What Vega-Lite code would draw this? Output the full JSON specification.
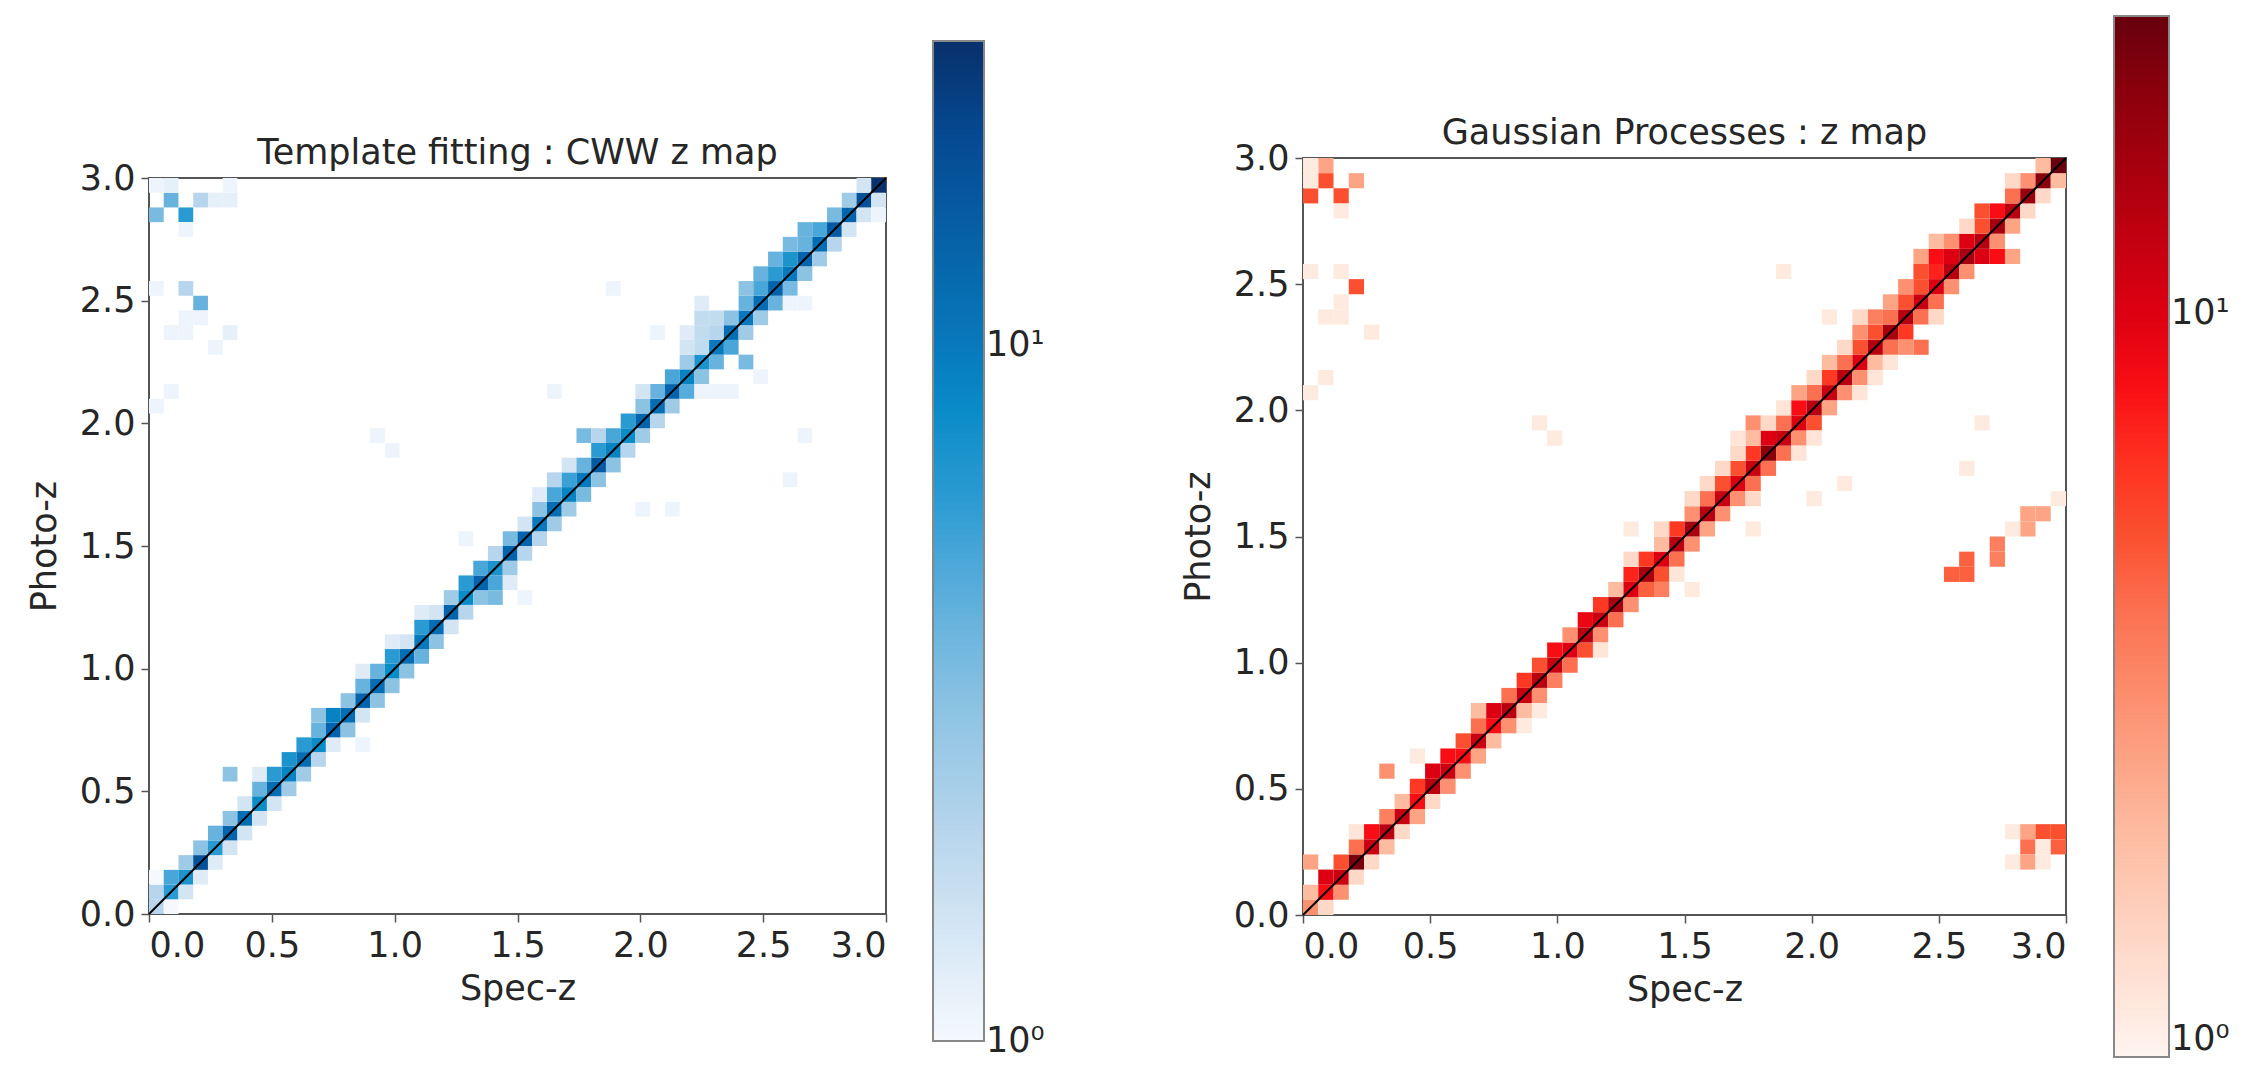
{
  "$schema": "https://vega.github.io/schema/vega-lite/v6.json",
  "padding": {"left": 26, "top": 16, "right": 0, "bottom": 0},
  "background": "white",
  "config": {
    "font": "DejaVu Sans",
    "view": {"stroke": "#555", "strokeWidth": 2},
    "axis": {"grid": false, "domain": false, "labelFontSize": 35, "titleFontSize": 35, "labelColor": "#262626", "titleColor": "#262626", "tickColor": "#555", "tickWidth": 1.5, "tickSize": 8, "labelFont": "DejaVu Sans", "titleFont": "DejaVu Sans", "titleFontWeight": "normal", "labelPadding": 6, "titlePadding": 8},
    "axisY": {"titlePadding": 17},
    "title": {"fontSize": 35, "fontWeight": "normal", "color": "#262626", "font": "DejaVu Sans", "offset": -10},
    "legend": {"gradientStrokeColor": "#888", "gradientStrokeWidth": 2, "labelFontSize": 35, "labelColor": "#262626", "labelFont": "DejaVu Sans", "padding": 0, "labelOffset": 20}
  },
  "hconcat": [
    {
      "vconcat": [
        {"width": 737, "height": 1, "view": {"stroke": null}, "data": {"values": [{"k": 0}]}, "mark": {"type": "point", "opacity": 0}, "encoding": {}},
        {
          "width": 737, "height": 736,
          "title": "Template fitting : CWW z map",
          "layer": [
            {
              "data": {"values": [
{"sx":0,"sx2":0.06,"pz":0,"pz2":0.06,"n":2},
{"sx":0,"sx2":0.06,"pz":0.06,"pz2":0.12,"n":2},
{"sx":0,"sx2":0.06,"pz":0.12,"pz2":0.18,"n":1},
{"sx":0.06,"sx2":0.12,"pz":0,"pz2":0.06,"n":1},
{"sx":0.06,"sx2":0.12,"pz":0.06,"pz2":0.12,"n":6},
{"sx":0.06,"sx2":0.12,"pz":0.12,"pz2":0.18,"n":5},
{"sx":0.12,"sx2":0.18,"pz":0.06,"pz2":0.12,"n":1.5},
{"sx":0.12,"sx2":0.18,"pz":0.12,"pz2":0.18,"n":7},
{"sx":0.12,"sx2":0.18,"pz":0.18,"pz2":0.24,"n":2.5},
{"sx":0.18,"sx2":0.24,"pz":0.12,"pz2":0.18,"n":1.3},
{"sx":0.18,"sx2":0.24,"pz":0.18,"pz2":0.24,"n":18},
{"sx":0.18,"sx2":0.24,"pz":0.24,"pz2":0.3,"n":3},
{"sx":0.24,"sx2":0.3,"pz":0.18,"pz2":0.24,"n":1.3},
{"sx":0.24,"sx2":0.3,"pz":0.24,"pz2":0.3,"n":6},
{"sx":0.24,"sx2":0.3,"pz":0.3,"pz2":0.36,"n":4},
{"sx":0.3,"sx2":0.36,"pz":0.24,"pz2":0.3,"n":1.5},
{"sx":0.3,"sx2":0.36,"pz":0.3,"pz2":0.36,"n":14},
{"sx":0.3,"sx2":0.36,"pz":0.36,"pz2":0.42,"n":3},
{"sx":0.36,"sx2":0.42,"pz":0.3,"pz2":0.36,"n":1.5},
{"sx":0.36,"sx2":0.42,"pz":0.36,"pz2":0.42,"n":12},
{"sx":0.36,"sx2":0.42,"pz":0.42,"pz2":0.48,"n":1.5},
{"sx":0.42,"sx2":0.48,"pz":0.36,"pz2":0.42,"n":1.5},
{"sx":0.42,"sx2":0.48,"pz":0.42,"pz2":0.48,"n":8},
{"sx":0.42,"sx2":0.48,"pz":0.48,"pz2":0.54,"n":4},
{"sx":0.48,"sx2":0.54,"pz":0.42,"pz2":0.48,"n":1.5},
{"sx":0.42,"sx2":0.48,"pz":0.54,"pz2":0.6,"n":1.3},
{"sx":0.48,"sx2":0.54,"pz":0.48,"pz2":0.54,"n":12},
{"sx":0.48,"sx2":0.54,"pz":0.54,"pz2":0.6,"n":6},
{"sx":0.54,"sx2":0.6,"pz":0.48,"pz2":0.54,"n":2.5},
{"sx":0.54,"sx2":0.6,"pz":0.54,"pz2":0.6,"n":9},
{"sx":0.54,"sx2":0.6,"pz":0.6,"pz2":0.66,"n":7},
{"sx":0.6,"sx2":0.66,"pz":0.54,"pz2":0.6,"n":2.5},
{"sx":0.6,"sx2":0.66,"pz":0.6,"pz2":0.66,"n":12},
{"sx":0.6,"sx2":0.66,"pz":0.66,"pz2":0.72,"n":6},
{"sx":0.66,"sx2":0.72,"pz":0.6,"pz2":0.66,"n":2},
{"sx":0.66,"sx2":0.72,"pz":0.66,"pz2":0.72,"n":8},
{"sx":0.66,"sx2":0.72,"pz":0.72,"pz2":0.78,"n":4},
{"sx":0.72,"sx2":0.78,"pz":0.66,"pz2":0.72,"n":1.3},
{"sx":0.66,"sx2":0.72,"pz":0.78,"pz2":0.84,"n":3},
{"sx":0.72,"sx2":0.78,"pz":0.72,"pz2":0.78,"n":14},
{"sx":0.72,"sx2":0.78,"pz":0.78,"pz2":0.84,"n":9},
{"sx":0.78,"sx2":0.84,"pz":0.72,"pz2":0.78,"n":3},
{"sx":0.78,"sx2":0.84,"pz":0.78,"pz2":0.84,"n":12},
{"sx":0.78,"sx2":0.84,"pz":0.84,"pz2":0.9,"n":3},
{"sx":0.84,"sx2":0.9,"pz":0.78,"pz2":0.84,"n":1.5},
{"sx":0.84,"sx2":0.9,"pz":0.84,"pz2":0.9,"n":14},
{"sx":0.84,"sx2":0.9,"pz":0.9,"pz2":0.96,"n":4},
{"sx":0.9,"sx2":0.96,"pz":0.84,"pz2":0.9,"n":3},
{"sx":0.84,"sx2":0.9,"pz":0.96,"pz2":1.02,"n":1.3},
{"sx":0.9,"sx2":0.96,"pz":0.9,"pz2":0.96,"n":12},
{"sx":0.9,"sx2":0.96,"pz":0.96,"pz2":1.02,"n":4},
{"sx":0.96,"sx2":1.02,"pz":0.9,"pz2":0.96,"n":3},
{"sx":0.96,"sx2":1.02,"pz":0.96,"pz2":1.02,"n":8},
{"sx":0.96,"sx2":1.02,"pz":1.02,"pz2":1.08,"n":6},
{"sx":1.02,"sx2":1.08,"pz":0.96,"pz2":1.02,"n":3},
{"sx":0.96,"sx2":1.02,"pz":1.08,"pz2":1.14,"n":1.3},
{"sx":1.02,"sx2":1.08,"pz":1.02,"pz2":1.08,"n":12},
{"sx":1.02,"sx2":1.08,"pz":1.08,"pz2":1.14,"n":1.5},
{"sx":1.08,"sx2":1.14,"pz":1.02,"pz2":1.08,"n":4},
{"sx":1.08,"sx2":1.14,"pz":1.08,"pz2":1.14,"n":10},
{"sx":1.08,"sx2":1.14,"pz":1.14,"pz2":1.2,"n":6},
{"sx":1.14,"sx2":1.2,"pz":1.08,"pz2":1.14,"n":3},
{"sx":1.08,"sx2":1.14,"pz":1.2,"pz2":1.26,"n":1.3},
{"sx":1.14,"sx2":1.2,"pz":1.14,"pz2":1.2,"n":12},
{"sx":1.14,"sx2":1.2,"pz":1.2,"pz2":1.26,"n":1.5},
{"sx":1.2,"sx2":1.26,"pz":1.14,"pz2":1.2,"n":1.5},
{"sx":1.2,"sx2":1.26,"pz":1.2,"pz2":1.26,"n":14},
{"sx":1.2,"sx2":1.26,"pz":1.26,"pz2":1.32,"n":2.5},
{"sx":1.26,"sx2":1.32,"pz":1.2,"pz2":1.26,"n":2},
{"sx":1.26,"sx2":1.32,"pz":1.26,"pz2":1.32,"n":8},
{"sx":1.26,"sx2":1.32,"pz":1.32,"pz2":1.38,"n":6},
{"sx":1.32,"sx2":1.38,"pz":1.26,"pz2":1.32,"n":3},
{"sx":1.32,"sx2":1.38,"pz":1.32,"pz2":1.38,"n":14},
{"sx":1.32,"sx2":1.38,"pz":1.38,"pz2":1.44,"n":5},
{"sx":1.38,"sx2":1.44,"pz":1.32,"pz2":1.38,"n":5},
{"sx":1.38,"sx2":1.44,"pz":1.26,"pz2":1.32,"n":3.5},
{"sx":1.38,"sx2":1.44,"pz":1.38,"pz2":1.44,"n":7},
{"sx":1.38,"sx2":1.44,"pz":1.44,"pz2":1.5,"n":2},
{"sx":1.44,"sx2":1.5,"pz":1.38,"pz2":1.44,"n":2.5},
{"sx":1.44,"sx2":1.5,"pz":1.32,"pz2":1.38,"n":1.3},
{"sx":1.44,"sx2":1.5,"pz":1.44,"pz2":1.5,"n":14},
{"sx":1.44,"sx2":1.5,"pz":1.5,"pz2":1.56,"n":3.5},
{"sx":1.5,"sx2":1.56,"pz":1.44,"pz2":1.5,"n":2},
{"sx":1.5,"sx2":1.56,"pz":1.5,"pz2":1.56,"n":14},
{"sx":1.5,"sx2":1.56,"pz":1.56,"pz2":1.62,"n":1.5},
{"sx":1.56,"sx2":1.62,"pz":1.5,"pz2":1.56,"n":2},
{"sx":1.56,"sx2":1.62,"pz":1.56,"pz2":1.62,"n":10},
{"sx":1.56,"sx2":1.62,"pz":1.62,"pz2":1.68,"n":3},
{"sx":1.62,"sx2":1.68,"pz":1.56,"pz2":1.62,"n":2.5},
{"sx":1.56,"sx2":1.62,"pz":1.68,"pz2":1.74,"n":1.3},
{"sx":1.62,"sx2":1.68,"pz":1.62,"pz2":1.68,"n":12},
{"sx":1.62,"sx2":1.68,"pz":1.68,"pz2":1.74,"n":5},
{"sx":1.68,"sx2":1.74,"pz":1.62,"pz2":1.68,"n":2.5},
{"sx":1.62,"sx2":1.68,"pz":1.74,"pz2":1.8,"n":2},
{"sx":1.68,"sx2":1.74,"pz":1.68,"pz2":1.74,"n":9},
{"sx":1.68,"sx2":1.74,"pz":1.74,"pz2":1.8,"n":5.5},
{"sx":1.74,"sx2":1.8,"pz":1.68,"pz2":1.74,"n":3.5},
{"sx":1.68,"sx2":1.74,"pz":1.8,"pz2":1.86,"n":1.5},
{"sx":1.74,"sx2":1.8,"pz":1.74,"pz2":1.8,"n":10},
{"sx":1.74,"sx2":1.8,"pz":1.8,"pz2":1.86,"n":4},
{"sx":1.8,"sx2":1.86,"pz":1.74,"pz2":1.8,"n":3},
{"sx":1.74,"sx2":1.8,"pz":1.92,"pz2":1.98,"n":3.5},
{"sx":1.8,"sx2":1.86,"pz":1.8,"pz2":1.86,"n":16},
{"sx":1.8,"sx2":1.86,"pz":1.86,"pz2":1.92,"n":6},
{"sx":1.86,"sx2":1.92,"pz":1.8,"pz2":1.86,"n":3},
{"sx":1.8,"sx2":1.86,"pz":1.92,"pz2":1.98,"n":2},
{"sx":1.86,"sx2":1.92,"pz":1.86,"pz2":1.92,"n":9},
{"sx":1.86,"sx2":1.92,"pz":1.92,"pz2":1.98,"n":5},
{"sx":1.92,"sx2":1.98,"pz":1.86,"pz2":1.92,"n":2},
{"sx":1.92,"sx2":1.98,"pz":1.92,"pz2":1.98,"n":8},
{"sx":1.92,"sx2":1.98,"pz":1.98,"pz2":2.04,"n":6},
{"sx":1.98,"sx2":2.04,"pz":1.92,"pz2":1.98,"n":2.5},
{"sx":1.98,"sx2":2.04,"pz":1.98,"pz2":2.04,"n":14},
{"sx":1.98,"sx2":2.04,"pz":2.04,"pz2":2.1,"n":3},
{"sx":2.04,"sx2":2.1,"pz":1.98,"pz2":2.04,"n":2},
{"sx":2.04,"sx2":2.1,"pz":2.04,"pz2":2.1,"n":12},
{"sx":2.04,"sx2":2.1,"pz":2.1,"pz2":2.16,"n":4},
{"sx":2.1,"sx2":2.16,"pz":2.04,"pz2":2.1,"n":2.5},
{"sx":1.98,"sx2":2.04,"pz":2.1,"pz2":2.16,"n":1.5},
{"sx":2.1,"sx2":2.16,"pz":2.1,"pz2":2.16,"n":14},
{"sx":2.1,"sx2":2.16,"pz":2.16,"pz2":2.22,"n":5},
{"sx":2.16,"sx2":2.22,"pz":2.1,"pz2":2.16,"n":4.5},
{"sx":2.16,"sx2":2.22,"pz":2.16,"pz2":2.22,"n":9},
{"sx":2.16,"sx2":2.22,"pz":2.22,"pz2":2.28,"n":2.5},
{"sx":2.22,"sx2":2.28,"pz":2.16,"pz2":2.22,"n":3},
{"sx":2.16,"sx2":2.22,"pz":2.28,"pz2":2.34,"n":1.5},
{"sx":2.16,"sx2":2.22,"pz":2.34,"pz2":2.4,"n":1.3},
{"sx":2.22,"sx2":2.28,"pz":2.22,"pz2":2.28,"n":7},
{"sx":2.22,"sx2":2.28,"pz":2.28,"pz2":2.34,"n":1.8},
{"sx":2.22,"sx2":2.28,"pz":2.34,"pz2":2.4,"n":1.8},
{"sx":2.22,"sx2":2.28,"pz":2.4,"pz2":2.46,"n":1.8},
{"sx":2.22,"sx2":2.28,"pz":2.46,"pz2":2.52,"n":1.3},
{"sx":2.28,"sx2":2.34,"pz":2.22,"pz2":2.28,"n":4},
{"sx":2.28,"sx2":2.34,"pz":2.28,"pz2":2.34,"n":10},
{"sx":2.28,"sx2":2.34,"pz":2.34,"pz2":2.4,"n":2},
{"sx":2.28,"sx2":2.34,"pz":2.4,"pz2":2.46,"n":1.8},
{"sx":2.34,"sx2":2.4,"pz":2.28,"pz2":2.34,"n":5},
{"sx":2.34,"sx2":2.4,"pz":2.34,"pz2":2.4,"n":12},
{"sx":2.34,"sx2":2.4,"pz":2.4,"pz2":2.46,"n":3},
{"sx":2.4,"sx2":2.46,"pz":2.34,"pz2":2.4,"n":2.5},
{"sx":2.4,"sx2":2.46,"pz":2.22,"pz2":2.28,"n":3.5},
{"sx":2.4,"sx2":2.46,"pz":2.4,"pz2":2.46,"n":10},
{"sx":2.4,"sx2":2.46,"pz":2.46,"pz2":2.52,"n":4},
{"sx":2.46,"sx2":2.52,"pz":2.4,"pz2":2.46,"n":2.5},
{"sx":2.4,"sx2":2.46,"pz":2.52,"pz2":2.58,"n":3},
{"sx":2.46,"sx2":2.52,"pz":2.46,"pz2":2.52,"n":12},
{"sx":2.46,"sx2":2.52,"pz":2.52,"pz2":2.58,"n":5},
{"sx":2.52,"sx2":2.58,"pz":2.46,"pz2":2.52,"n":4},
{"sx":2.46,"sx2":2.52,"pz":2.58,"pz2":2.64,"n":4},
{"sx":2.52,"sx2":2.58,"pz":2.52,"pz2":2.58,"n":14},
{"sx":2.52,"sx2":2.58,"pz":2.58,"pz2":2.64,"n":6},
{"sx":2.58,"sx2":2.64,"pz":2.52,"pz2":2.58,"n":3.5},
{"sx":2.52,"sx2":2.58,"pz":2.64,"pz2":2.7,"n":4},
{"sx":2.58,"sx2":2.64,"pz":2.58,"pz2":2.64,"n":10},
{"sx":2.58,"sx2":2.64,"pz":2.64,"pz2":2.7,"n":7},
{"sx":2.64,"sx2":2.7,"pz":2.58,"pz2":2.64,"n":3},
{"sx":2.58,"sx2":2.64,"pz":2.7,"pz2":2.76,"n":3.5},
{"sx":2.64,"sx2":2.7,"pz":2.64,"pz2":2.7,"n":14},
{"sx":2.64,"sx2":2.7,"pz":2.7,"pz2":2.76,"n":4},
{"sx":2.7,"sx2":2.76,"pz":2.64,"pz2":2.7,"n":2.5},
{"sx":2.64,"sx2":2.7,"pz":2.76,"pz2":2.82,"n":4},
{"sx":2.7,"sx2":2.76,"pz":2.7,"pz2":2.76,"n":12},
{"sx":2.7,"sx2":2.76,"pz":2.76,"pz2":2.82,"n":5},
{"sx":2.76,"sx2":2.82,"pz":2.7,"pz2":2.76,"n":2},
{"sx":2.76,"sx2":2.82,"pz":2.76,"pz2":2.82,"n":16},
{"sx":2.76,"sx2":2.82,"pz":2.82,"pz2":2.88,"n":3.5},
{"sx":2.82,"sx2":2.88,"pz":2.76,"pz2":2.82,"n":1.5},
{"sx":2.82,"sx2":2.88,"pz":2.82,"pz2":2.88,"n":14},
{"sx":2.82,"sx2":2.88,"pz":2.88,"pz2":2.94,"n":2.5},
{"sx":2.88,"sx2":2.94,"pz":2.82,"pz2":2.88,"n":1.5},
{"sx":2.88,"sx2":2.94,"pz":2.88,"pz2":2.94,"n":18},
{"sx":2.88,"sx2":2.94,"pz":2.94,"pz2":3,"n":1.5},
{"sx":2.94,"sx2":3,"pz":2.88,"pz2":2.94,"n":1.5},
{"sx":2.94,"sx2":3,"pz":2.94,"pz2":3,"n":27},
{"sx":0,"sx2":0.06,"pz":2.82,"pz2":2.88,"n":3.5},
{"sx":0.06,"sx2":0.12,"pz":2.88,"pz2":2.94,"n":4},
{"sx":0.12,"sx2":0.18,"pz":2.82,"pz2":2.88,"n":6},
{"sx":0.18,"sx2":0.24,"pz":2.88,"pz2":2.94,"n":2},
{"sx":0.06,"sx2":0.12,"pz":2.94,"pz2":3,"n":1.2},
{"sx":0,"sx2":0.06,"pz":2.94,"pz2":3,"n":1.1},
{"sx":0.24,"sx2":0.3,"pz":2.88,"pz2":2.94,"n":1.2},
{"sx":0.3,"sx2":0.36,"pz":2.88,"pz2":2.94,"n":1.2},
{"sx":0.3,"sx2":0.36,"pz":2.94,"pz2":3,"n":1.1},
{"sx":0.12,"sx2":0.18,"pz":2.76,"pz2":2.82,"n":1.1},
{"sx":0,"sx2":0.06,"pz":2.52,"pz2":2.58,"n":1.1},
{"sx":0.12,"sx2":0.18,"pz":2.52,"pz2":2.58,"n":2},
{"sx":0.18,"sx2":0.24,"pz":2.46,"pz2":2.52,"n":4},
{"sx":0.12,"sx2":0.18,"pz":2.4,"pz2":2.46,"n":1.1},
{"sx":0.18,"sx2":0.24,"pz":2.4,"pz2":2.46,"n":1.1},
{"sx":0.06,"sx2":0.12,"pz":2.34,"pz2":2.4,"n":1.1},
{"sx":0.12,"sx2":0.18,"pz":2.34,"pz2":2.4,"n":1.1},
{"sx":0.3,"sx2":0.36,"pz":2.34,"pz2":2.4,"n":1.2},
{"sx":0.24,"sx2":0.3,"pz":2.28,"pz2":2.34,"n":1.1},
{"sx":0.06,"sx2":0.12,"pz":2.1,"pz2":2.16,"n":1.1},
{"sx":0,"sx2":0.06,"pz":2.04,"pz2":2.1,"n":1.1},
{"sx":0.9,"sx2":0.96,"pz":1.92,"pz2":1.98,"n":1.1},
{"sx":0.96,"sx2":1.02,"pz":1.86,"pz2":1.92,"n":1.1},
{"sx":2.64,"sx2":2.7,"pz":1.92,"pz2":1.98,"n":1.1},
{"sx":2.58,"sx2":2.64,"pz":1.74,"pz2":1.8,"n":1.1},
{"sx":1.86,"sx2":1.92,"pz":2.52,"pz2":2.58,"n":1.1},
{"sx":2.04,"sx2":2.1,"pz":2.34,"pz2":2.4,"n":1.1},
{"sx":1.62,"sx2":1.68,"pz":2.1,"pz2":2.16,"n":1.1},
{"sx":1.98,"sx2":2.04,"pz":1.62,"pz2":1.68,"n":1.1},
{"sx":2.1,"sx2":2.16,"pz":1.62,"pz2":1.68,"n":1.1},
{"sx":1.5,"sx2":1.56,"pz":1.26,"pz2":1.32,"n":1.1},
{"sx":1.26,"sx2":1.32,"pz":1.5,"pz2":1.56,"n":1.1},
{"sx":0.84,"sx2":0.9,"pz":0.66,"pz2":0.72,"n":1.1},
{"sx":0.3,"sx2":0.36,"pz":0.54,"pz2":0.6,"n":3},
{"sx":2.22,"sx2":2.28,"pz":2.1,"pz2":2.16,"n":1.1},
{"sx":2.28,"sx2":2.34,"pz":2.1,"pz2":2.16,"n":1.1},
{"sx":2.34,"sx2":2.4,"pz":2.1,"pz2":2.16,"n":1.1},
{"sx":2.46,"sx2":2.52,"pz":2.16,"pz2":2.22,"n":1.1},
{"sx":2.58,"sx2":2.64,"pz":2.46,"pz2":2.52,"n":1.1},
{"sx":2.64,"sx2":2.7,"pz":2.46,"pz2":2.52,"n":1.1},
{"sx":2.94,"sx2":3,"pz":2.82,"pz2":2.88,"n":1.1}
              ]},
              "mark": {"type": "rect"},
              "encoding": {
                "x": {"field": "sx", "type": "quantitative", "scale": {"domain": [0, 3], "nice": false, "zero": false}, "axis": {"values": [0, 0.5, 1, 1.5, 2, 2.5, 3], "format": ".1f", "title": "Spec-z"}},
                "x2": {"field": "sx2"},
                "y": {"field": "pz", "type": "quantitative", "scale": {"domain": [0, 3], "nice": false, "zero": false}, "axis": {"values": [0, 0.5, 1, 1.5, 2, 2.5, 3], "format": ".1f", "title": "Photo-z"}},
                "y2": {"field": "pz2"},
                "color": {
                  "field": "n", "type": "quantitative",
                  "scale": {"type": "log", "domain": [1, 1.4, 2, 3, 4.5, 6, 8, 10, 15, 20, 27.4], "range": ["#f5f9fe", "#d9e8f5", "#b7d5ec", "#8cc3e3", "#56addb", "#2a9bd2", "#0a8cc9", "#0879bc", "#045fa8", "#054a92", "#08306b"]},
                  "legend": {"orient": "none", "legendX": 784, "legendY": -116, "title": null, "direction": "vertical", "gradientLength": 1000, "gradientThickness": 51, "values": [1, 10], "labelExpr": "datum.value < 5 ? '10⁰' : '10¹'", "encode": {"labels": {"update": {"baseline": {"value": "middle"}}}}}
                }
              }
            },
            {
              "data": {"values": [{"sx": 0, "pz": 0}, {"sx": 3, "pz": 3}]},
              "mark": {"type": "line", "color": "black", "strokeWidth": 2},
              "encoding": {
                "x": {"field": "sx", "type": "quantitative"},
                "y": {"field": "pz", "type": "quantitative"}
              }
            }
          ]
        }
      ],
      "spacing": 20,
      "bounds": "flush"
    },
    {
      "vconcat": [
        {"width": 763, "height": 1, "view": {"stroke": null}, "data": {"values": [{"k": 0}]}, "mark": {"type": "point", "opacity": 0}, "encoding": {}},
        {
          "width": 763, "height": 757,
          "title": "Gaussian Processes : z map",
          "layer": [
            {
              "data": {"values": [
{"sx":0,"sx2":0.06,"pz":0,"pz2":0.06,"n":3},
{"sx":0,"sx2":0.06,"pz":0.06,"pz2":0.12,"n":2},
{"sx":0,"sx2":0.06,"pz":0.18,"pz2":0.24,"n":2.5},
{"sx":0.06,"sx2":0.12,"pz":0,"pz2":0.06,"n":1.5},
{"sx":0.06,"sx2":0.12,"pz":0.06,"pz2":0.12,"n":8},
{"sx":0.06,"sx2":0.12,"pz":0.12,"pz2":0.18,"n":10},
{"sx":0.12,"sx2":0.18,"pz":0.06,"pz2":0.12,"n":3},
{"sx":0.12,"sx2":0.18,"pz":0.12,"pz2":0.18,"n":12},
{"sx":0.12,"sx2":0.18,"pz":0.18,"pz2":0.24,"n":5},
{"sx":0.18,"sx2":0.24,"pz":0.12,"pz2":0.18,"n":1.5},
{"sx":0.18,"sx2":0.24,"pz":0.18,"pz2":0.24,"n":22},
{"sx":0.18,"sx2":0.24,"pz":0.24,"pz2":0.3,"n":4},
{"sx":0.24,"sx2":0.3,"pz":0.18,"pz2":0.24,"n":1.5},
{"sx":0.18,"sx2":0.24,"pz":0.3,"pz2":0.36,"n":1.3},
{"sx":0.24,"sx2":0.3,"pz":0.24,"pz2":0.3,"n":12},
{"sx":0.24,"sx2":0.3,"pz":0.3,"pz2":0.36,"n":8},
{"sx":0.3,"sx2":0.36,"pz":0.24,"pz2":0.3,"n":2},
{"sx":0.3,"sx2":0.36,"pz":0.3,"pz2":0.36,"n":14},
{"sx":0.3,"sx2":0.36,"pz":0.36,"pz2":0.42,"n":3.5},
{"sx":0.36,"sx2":0.42,"pz":0.3,"pz2":0.36,"n":1.5},
{"sx":0.36,"sx2":0.42,"pz":0.36,"pz2":0.42,"n":12},
{"sx":0.36,"sx2":0.42,"pz":0.42,"pz2":0.48,"n":2},
{"sx":0.42,"sx2":0.48,"pz":0.36,"pz2":0.42,"n":2.5},
{"sx":0.42,"sx2":0.48,"pz":0.6,"pz2":0.66,"n":1.2},
{"sx":0.42,"sx2":0.48,"pz":0.42,"pz2":0.48,"n":8},
{"sx":0.42,"sx2":0.48,"pz":0.48,"pz2":0.54,"n":6},
{"sx":0.48,"sx2":0.54,"pz":0.42,"pz2":0.48,"n":1.5},
{"sx":0.48,"sx2":0.54,"pz":0.48,"pz2":0.54,"n":14},
{"sx":0.48,"sx2":0.54,"pz":0.54,"pz2":0.6,"n":10},
{"sx":0.54,"sx2":0.6,"pz":0.48,"pz2":0.54,"n":3},
{"sx":0.54,"sx2":0.6,"pz":0.54,"pz2":0.6,"n":12},
{"sx":0.54,"sx2":0.6,"pz":0.6,"pz2":0.66,"n":8},
{"sx":0.6,"sx2":0.66,"pz":0.54,"pz2":0.6,"n":3},
{"sx":0.6,"sx2":0.66,"pz":0.6,"pz2":0.66,"n":8},
{"sx":0.6,"sx2":0.66,"pz":0.66,"pz2":0.72,"n":5},
{"sx":0.66,"sx2":0.72,"pz":0.6,"pz2":0.66,"n":2.5},
{"sx":0.66,"sx2":0.72,"pz":0.66,"pz2":0.72,"n":12},
{"sx":0.66,"sx2":0.72,"pz":0.72,"pz2":0.78,"n":4},
{"sx":0.72,"sx2":0.78,"pz":0.66,"pz2":0.72,"n":2},
{"sx":0.72,"sx2":0.78,"pz":0.72,"pz2":0.78,"n":8},
{"sx":0.72,"sx2":0.78,"pz":0.78,"pz2":0.84,"n":10},
{"sx":0.78,"sx2":0.84,"pz":0.72,"pz2":0.78,"n":3},
{"sx":0.66,"sx2":0.72,"pz":0.78,"pz2":0.84,"n":2},
{"sx":0.78,"sx2":0.84,"pz":0.78,"pz2":0.84,"n":14},
{"sx":0.78,"sx2":0.84,"pz":0.84,"pz2":0.9,"n":4},
{"sx":0.84,"sx2":0.9,"pz":0.78,"pz2":0.84,"n":2},
{"sx":0.84,"sx2":0.9,"pz":0.72,"pz2":0.78,"n":1.2},
{"sx":0.84,"sx2":0.9,"pz":0.84,"pz2":0.9,"n":12},
{"sx":0.84,"sx2":0.9,"pz":0.9,"pz2":0.96,"n":6},
{"sx":0.9,"sx2":0.96,"pz":0.84,"pz2":0.9,"n":3},
{"sx":0.9,"sx2":0.96,"pz":0.78,"pz2":0.84,"n":1.2},
{"sx":0.9,"sx2":0.96,"pz":0.9,"pz2":0.96,"n":14},
{"sx":0.9,"sx2":0.96,"pz":0.96,"pz2":1.02,"n":5},
{"sx":0.96,"sx2":1.02,"pz":0.9,"pz2":0.96,"n":3.5},
{"sx":0.96,"sx2":1.02,"pz":0.96,"pz2":1.02,"n":12},
{"sx":0.96,"sx2":1.02,"pz":1.02,"pz2":1.08,"n":8},
{"sx":1.02,"sx2":1.08,"pz":0.96,"pz2":1.02,"n":4},
{"sx":1.02,"sx2":1.08,"pz":1.02,"pz2":1.08,"n":10},
{"sx":1.02,"sx2":1.08,"pz":1.08,"pz2":1.14,"n":3},
{"sx":1.08,"sx2":1.14,"pz":1.02,"pz2":1.08,"n":5},
{"sx":1.08,"sx2":1.14,"pz":1.08,"pz2":1.14,"n":14},
{"sx":1.08,"sx2":1.14,"pz":1.14,"pz2":1.2,"n":9},
{"sx":1.14,"sx2":1.2,"pz":1.08,"pz2":1.14,"n":3},
{"sx":1.14,"sx2":1.2,"pz":1.02,"pz2":1.08,"n":1.3},
{"sx":1.14,"sx2":1.2,"pz":1.14,"pz2":1.2,"n":12},
{"sx":1.14,"sx2":1.2,"pz":1.2,"pz2":1.26,"n":6},
{"sx":1.2,"sx2":1.26,"pz":1.14,"pz2":1.2,"n":4},
{"sx":1.2,"sx2":1.26,"pz":1.2,"pz2":1.26,"n":16},
{"sx":1.2,"sx2":1.26,"pz":1.26,"pz2":1.32,"n":2},
{"sx":1.26,"sx2":1.32,"pz":1.2,"pz2":1.26,"n":3},
{"sx":1.26,"sx2":1.32,"pz":1.26,"pz2":1.32,"n":10},
{"sx":1.26,"sx2":1.32,"pz":1.32,"pz2":1.38,"n":7},
{"sx":1.32,"sx2":1.38,"pz":1.26,"pz2":1.32,"n":4.5},
{"sx":1.26,"sx2":1.32,"pz":1.38,"pz2":1.44,"n":1.5},
{"sx":1.32,"sx2":1.38,"pz":1.32,"pz2":1.38,"n":16},
{"sx":1.32,"sx2":1.38,"pz":1.38,"pz2":1.44,"n":6},
{"sx":1.38,"sx2":1.44,"pz":1.32,"pz2":1.38,"n":5},
{"sx":1.38,"sx2":1.44,"pz":1.26,"pz2":1.32,"n":3.5},
{"sx":1.38,"sx2":1.44,"pz":1.38,"pz2":1.44,"n":10},
{"sx":1.38,"sx2":1.44,"pz":1.44,"pz2":1.5,"n":2},
{"sx":1.44,"sx2":1.5,"pz":1.38,"pz2":1.44,"n":4},
{"sx":1.44,"sx2":1.5,"pz":1.32,"pz2":1.38,"n":1.3},
{"sx":1.44,"sx2":1.5,"pz":1.44,"pz2":1.5,"n":14},
{"sx":1.44,"sx2":1.5,"pz":1.5,"pz2":1.56,"n":6},
{"sx":1.5,"sx2":1.56,"pz":1.44,"pz2":1.5,"n":3},
{"sx":1.38,"sx2":1.44,"pz":1.5,"pz2":1.56,"n":1.5},
{"sx":1.5,"sx2":1.56,"pz":1.5,"pz2":1.56,"n":16},
{"sx":1.5,"sx2":1.56,"pz":1.56,"pz2":1.62,"n":3},
{"sx":1.56,"sx2":1.62,"pz":1.5,"pz2":1.56,"n":2.5},
{"sx":1.56,"sx2":1.62,"pz":1.56,"pz2":1.62,"n":14},
{"sx":1.56,"sx2":1.62,"pz":1.62,"pz2":1.68,"n":4},
{"sx":1.62,"sx2":1.68,"pz":1.56,"pz2":1.62,"n":3},
{"sx":1.5,"sx2":1.56,"pz":1.62,"pz2":1.68,"n":1.5},
{"sx":1.62,"sx2":1.68,"pz":1.62,"pz2":1.68,"n":12},
{"sx":1.62,"sx2":1.68,"pz":1.68,"pz2":1.74,"n":5},
{"sx":1.68,"sx2":1.74,"pz":1.62,"pz2":1.68,"n":3},
{"sx":1.56,"sx2":1.62,"pz":1.68,"pz2":1.74,"n":1.5},
{"sx":1.68,"sx2":1.74,"pz":1.68,"pz2":1.74,"n":10},
{"sx":1.68,"sx2":1.74,"pz":1.74,"pz2":1.8,"n":5},
{"sx":1.74,"sx2":1.8,"pz":1.68,"pz2":1.74,"n":4},
{"sx":1.62,"sx2":1.68,"pz":1.74,"pz2":1.8,"n":1.5},
{"sx":1.74,"sx2":1.8,"pz":1.62,"pz2":1.68,"n":1.5},
{"sx":1.74,"sx2":1.8,"pz":1.74,"pz2":1.8,"n":12},
{"sx":1.74,"sx2":1.8,"pz":1.8,"pz2":1.86,"n":6},
{"sx":1.8,"sx2":1.86,"pz":1.74,"pz2":1.8,"n":4},
{"sx":1.68,"sx2":1.74,"pz":1.8,"pz2":1.86,"n":1.5},
{"sx":1.68,"sx2":1.74,"pz":1.86,"pz2":1.92,"n":1.3},
{"sx":1.74,"sx2":1.8,"pz":1.86,"pz2":1.92,"n":2},
{"sx":1.8,"sx2":1.86,"pz":1.8,"pz2":1.86,"n":20},
{"sx":1.8,"sx2":1.86,"pz":1.86,"pz2":1.92,"n":10},
{"sx":1.86,"sx2":1.92,"pz":1.8,"pz2":1.86,"n":4},
{"sx":1.74,"sx2":1.8,"pz":1.92,"pz2":1.98,"n":3},
{"sx":1.8,"sx2":1.86,"pz":1.92,"pz2":1.98,"n":1.5},
{"sx":1.86,"sx2":1.92,"pz":1.86,"pz2":1.92,"n":12},
{"sx":1.86,"sx2":1.92,"pz":1.92,"pz2":1.98,"n":4},
{"sx":1.92,"sx2":1.98,"pz":1.86,"pz2":1.92,"n":3},
{"sx":1.86,"sx2":1.92,"pz":1.98,"pz2":2.04,"n":1.3},
{"sx":1.92,"sx2":1.98,"pz":1.8,"pz2":1.86,"n":1.3},
{"sx":1.92,"sx2":1.98,"pz":1.92,"pz2":1.98,"n":10},
{"sx":1.92,"sx2":1.98,"pz":1.98,"pz2":2.04,"n":8},
{"sx":1.98,"sx2":2.04,"pz":1.92,"pz2":1.98,"n":5},
{"sx":1.98,"sx2":2.04,"pz":1.86,"pz2":1.92,"n":1.3},
{"sx":1.98,"sx2":2.04,"pz":1.98,"pz2":2.04,"n":14},
{"sx":1.98,"sx2":2.04,"pz":2.04,"pz2":2.1,"n":4},
{"sx":2.04,"sx2":2.1,"pz":1.98,"pz2":2.04,"n":2.5},
{"sx":1.92,"sx2":1.98,"pz":2.04,"pz2":2.1,"n":2.5},
{"sx":2.04,"sx2":2.1,"pz":2.04,"pz2":2.1,"n":12},
{"sx":2.04,"sx2":2.1,"pz":2.1,"pz2":2.16,"n":6},
{"sx":2.1,"sx2":2.16,"pz":2.04,"pz2":2.1,"n":3},
{"sx":1.98,"sx2":2.04,"pz":2.1,"pz2":2.16,"n":1.5},
{"sx":2.1,"sx2":2.16,"pz":2.1,"pz2":2.16,"n":14},
{"sx":2.1,"sx2":2.16,"pz":2.16,"pz2":2.22,"n":4},
{"sx":2.16,"sx2":2.22,"pz":2.1,"pz2":2.16,"n":3},
{"sx":2.04,"sx2":2.1,"pz":2.16,"pz2":2.22,"n":2},
{"sx":2.16,"sx2":2.22,"pz":2.16,"pz2":2.22,"n":10},
{"sx":2.16,"sx2":2.22,"pz":2.22,"pz2":2.28,"n":5},
{"sx":2.22,"sx2":2.28,"pz":2.16,"pz2":2.22,"n":2},
{"sx":2.1,"sx2":2.16,"pz":2.22,"pz2":2.28,"n":1.5},
{"sx":2.16,"sx2":2.22,"pz":2.04,"pz2":2.1,"n":1.3},
{"sx":2.22,"sx2":2.28,"pz":2.22,"pz2":2.28,"n":14},
{"sx":2.22,"sx2":2.28,"pz":2.28,"pz2":2.34,"n":5},
{"sx":2.28,"sx2":2.34,"pz":2.22,"pz2":2.28,"n":4},
{"sx":2.22,"sx2":2.28,"pz":2.34,"pz2":2.4,"n":3.5},
{"sx":2.16,"sx2":2.22,"pz":2.28,"pz2":2.34,"n":3},
{"sx":2.16,"sx2":2.22,"pz":2.34,"pz2":2.4,"n":1.5},
{"sx":2.22,"sx2":2.28,"pz":2.1,"pz2":2.16,"n":1.3},
{"sx":2.28,"sx2":2.34,"pz":2.28,"pz2":2.34,"n":16},
{"sx":2.28,"sx2":2.34,"pz":2.34,"pz2":2.4,"n":4},
{"sx":2.34,"sx2":2.4,"pz":2.28,"pz2":2.34,"n":6},
{"sx":2.28,"sx2":2.34,"pz":2.4,"pz2":2.46,"n":2.5},
{"sx":2.28,"sx2":2.34,"pz":2.16,"pz2":2.22,"n":1.3},
{"sx":2.34,"sx2":2.4,"pz":2.34,"pz2":2.4,"n":14},
{"sx":2.34,"sx2":2.4,"pz":2.4,"pz2":2.46,"n":5},
{"sx":2.4,"sx2":2.46,"pz":2.34,"pz2":2.4,"n":4},
{"sx":2.4,"sx2":2.46,"pz":2.22,"pz2":2.28,"n":4},
{"sx":2.34,"sx2":2.4,"pz":2.46,"pz2":2.52,"n":3},
{"sx":2.34,"sx2":2.4,"pz":2.22,"pz2":2.28,"n":3},
{"sx":2.4,"sx2":2.46,"pz":2.4,"pz2":2.46,"n":12},
{"sx":2.4,"sx2":2.46,"pz":2.46,"pz2":2.52,"n":5},
{"sx":2.46,"sx2":2.52,"pz":2.4,"pz2":2.46,"n":4},
{"sx":2.4,"sx2":2.46,"pz":2.52,"pz2":2.58,"n":5},
{"sx":2.4,"sx2":2.46,"pz":2.58,"pz2":2.64,"n":2.5},
{"sx":2.46,"sx2":2.52,"pz":2.34,"pz2":2.4,"n":1.5},
{"sx":2.46,"sx2":2.52,"pz":2.46,"pz2":2.52,"n":10},
{"sx":2.46,"sx2":2.52,"pz":2.52,"pz2":2.58,"n":7},
{"sx":2.52,"sx2":2.58,"pz":2.46,"pz2":2.52,"n":3},
{"sx":2.46,"sx2":2.52,"pz":2.58,"pz2":2.64,"n":8},
{"sx":2.46,"sx2":2.52,"pz":2.64,"pz2":2.7,"n":2},
{"sx":2.52,"sx2":2.58,"pz":2.52,"pz2":2.58,"n":14},
{"sx":2.52,"sx2":2.58,"pz":2.58,"pz2":2.64,"n":10},
{"sx":2.58,"sx2":2.64,"pz":2.52,"pz2":2.58,"n":3},
{"sx":2.52,"sx2":2.58,"pz":2.64,"pz2":2.7,"n":3},
{"sx":2.58,"sx2":2.64,"pz":2.58,"pz2":2.64,"n":16},
{"sx":2.58,"sx2":2.64,"pz":2.64,"pz2":2.7,"n":10},
{"sx":2.64,"sx2":2.7,"pz":2.58,"pz2":2.64,"n":10},
{"sx":2.7,"sx2":2.76,"pz":2.58,"pz2":2.64,"n":8},
{"sx":2.76,"sx2":2.82,"pz":2.58,"pz2":2.64,"n":2.5},
{"sx":2.64,"sx2":2.7,"pz":2.64,"pz2":2.7,"n":14},
{"sx":2.64,"sx2":2.7,"pz":2.7,"pz2":2.76,"n":5},
{"sx":2.7,"sx2":2.76,"pz":2.64,"pz2":2.7,"n":3},
{"sx":2.58,"sx2":2.64,"pz":2.7,"pz2":2.76,"n":1.5},
{"sx":2.7,"sx2":2.76,"pz":2.7,"pz2":2.76,"n":16},
{"sx":2.7,"sx2":2.76,"pz":2.76,"pz2":2.82,"n":8},
{"sx":2.76,"sx2":2.82,"pz":2.7,"pz2":2.76,"n":2.5},
{"sx":2.64,"sx2":2.7,"pz":2.76,"pz2":2.82,"n":5},
{"sx":2.76,"sx2":2.82,"pz":2.76,"pz2":2.82,"n":14},
{"sx":2.76,"sx2":2.82,"pz":2.82,"pz2":2.88,"n":4},
{"sx":2.82,"sx2":2.88,"pz":2.76,"pz2":2.82,"n":1.5},
{"sx":2.82,"sx2":2.88,"pz":2.82,"pz2":2.88,"n":18},
{"sx":2.82,"sx2":2.88,"pz":2.88,"pz2":2.94,"n":3},
{"sx":2.88,"sx2":2.94,"pz":2.82,"pz2":2.88,"n":1.5},
{"sx":2.76,"sx2":2.82,"pz":2.88,"pz2":2.94,"n":1.5},
{"sx":2.88,"sx2":2.94,"pz":2.88,"pz2":2.94,"n":20},
{"sx":2.88,"sx2":2.94,"pz":2.94,"pz2":3,"n":2},
{"sx":2.94,"sx2":3,"pz":2.88,"pz2":2.94,"n":2},
{"sx":2.94,"sx2":3,"pz":2.94,"pz2":3,"n":25},
{"sx":0,"sx2":0.06,"pz":2.82,"pz2":2.88,"n":5},
{"sx":0.06,"sx2":0.12,"pz":2.88,"pz2":2.94,"n":5},
{"sx":0.06,"sx2":0.12,"pz":2.94,"pz2":3,"n":2.5},
{"sx":0,"sx2":0.06,"pz":2.88,"pz2":2.94,"n":1.2},
{"sx":0,"sx2":0.06,"pz":2.94,"pz2":3,"n":1.2},
{"sx":0.12,"sx2":0.18,"pz":2.82,"pz2":2.88,"n":5},
{"sx":0.18,"sx2":0.24,"pz":2.88,"pz2":2.94,"n":2.5},
{"sx":0.12,"sx2":0.18,"pz":2.76,"pz2":2.82,"n":1.2},
{"sx":0,"sx2":0.06,"pz":2.52,"pz2":2.58,"n":1.2},
{"sx":0.12,"sx2":0.18,"pz":2.52,"pz2":2.58,"n":1.2},
{"sx":0.18,"sx2":0.24,"pz":2.46,"pz2":2.52,"n":5},
{"sx":0.12,"sx2":0.18,"pz":2.4,"pz2":2.46,"n":1.2},
{"sx":0.06,"sx2":0.12,"pz":2.34,"pz2":2.4,"n":1.2},
{"sx":0.12,"sx2":0.18,"pz":2.34,"pz2":2.4,"n":1.2},
{"sx":0.24,"sx2":0.3,"pz":2.28,"pz2":2.34,"n":1.2},
{"sx":0,"sx2":0.06,"pz":2.04,"pz2":2.1,"n":1.2},
{"sx":0.06,"sx2":0.12,"pz":2.1,"pz2":2.16,"n":1.2},
{"sx":0.9,"sx2":0.96,"pz":1.92,"pz2":1.98,"n":1.2},
{"sx":0.96,"sx2":1.02,"pz":1.86,"pz2":1.92,"n":1.2},
{"sx":1.86,"sx2":1.92,"pz":2.52,"pz2":2.58,"n":1.2},
{"sx":2.04,"sx2":2.1,"pz":2.34,"pz2":2.4,"n":1.2},
{"sx":2.64,"sx2":2.7,"pz":1.92,"pz2":1.98,"n":1.2},
{"sx":2.58,"sx2":2.64,"pz":1.74,"pz2":1.8,"n":1.2},
{"sx":2.1,"sx2":2.16,"pz":1.68,"pz2":1.74,"n":1.2},
{"sx":1.98,"sx2":2.04,"pz":1.62,"pz2":1.68,"n":1.2},
{"sx":2.94,"sx2":3,"pz":1.62,"pz2":1.68,"n":1.2},
{"sx":2.82,"sx2":2.88,"pz":1.56,"pz2":1.62,"n":2.5},
{"sx":2.88,"sx2":2.94,"pz":1.56,"pz2":1.62,"n":2.5},
{"sx":2.82,"sx2":2.88,"pz":1.5,"pz2":1.56,"n":2.5},
{"sx":2.76,"sx2":2.82,"pz":1.5,"pz2":1.56,"n":1.2},
{"sx":2.7,"sx2":2.76,"pz":1.44,"pz2":1.5,"n":3.5},
{"sx":2.7,"sx2":2.76,"pz":1.38,"pz2":1.44,"n":3.5},
{"sx":2.58,"sx2":2.64,"pz":1.38,"pz2":1.44,"n":4.5},
{"sx":2.52,"sx2":2.58,"pz":1.32,"pz2":1.38,"n":4.5},
{"sx":2.58,"sx2":2.64,"pz":1.32,"pz2":1.38,"n":4.5},
{"sx":1.74,"sx2":1.8,"pz":1.5,"pz2":1.56,"n":1.2},
{"sx":1.5,"sx2":1.56,"pz":1.26,"pz2":1.32,"n":1.2},
{"sx":1.26,"sx2":1.32,"pz":1.5,"pz2":1.56,"n":1.2},
{"sx":2.76,"sx2":2.82,"pz":0.3,"pz2":0.36,"n":1.2},
{"sx":2.82,"sx2":2.88,"pz":0.3,"pz2":0.36,"n":2.5},
{"sx":2.88,"sx2":2.94,"pz":0.3,"pz2":0.36,"n":5},
{"sx":2.94,"sx2":3,"pz":0.3,"pz2":0.36,"n":5},
{"sx":2.82,"sx2":2.88,"pz":0.24,"pz2":0.3,"n":4},
{"sx":2.88,"sx2":2.94,"pz":0.24,"pz2":0.3,"n":1.2},
{"sx":2.94,"sx2":3,"pz":0.24,"pz2":0.3,"n":4.5},
{"sx":2.76,"sx2":2.82,"pz":0.18,"pz2":0.24,"n":1.2},
{"sx":2.82,"sx2":2.88,"pz":0.18,"pz2":0.24,"n":2.5},
{"sx":2.88,"sx2":2.94,"pz":0.18,"pz2":0.24,"n":1.2},
{"sx":0.3,"sx2":0.36,"pz":0.54,"pz2":0.6,"n":3}
              ]},
              "mark": {"type": "rect"},
              "encoding": {
                "x": {"field": "sx", "type": "quantitative", "scale": {"domain": [0, 3], "nice": false, "zero": false}, "axis": {"values": [0, 0.5, 1, 1.5, 2, 2.5, 3], "format": ".1f", "title": "Spec-z"}},
                "x2": {"field": "sx2"},
                "y": {"field": "pz", "type": "quantitative", "scale": {"domain": [0, 3], "nice": false, "zero": false}, "axis": {"values": [0, 0.5, 1, 1.5, 2, 2.5, 3], "format": ".1f", "title": "Photo-z"}},
                "y2": {"field": "pz2"},
                "color": {
                  "field": "n", "type": "quantitative",
                  "scale": {"type": "log", "domain": [1, 1.4, 2, 3, 4, 5, 6.5, 8, 10, 15, 20, 25.1], "range": ["#fff5f0", "#fee0d2", "#fdbba0", "#fc9070", "#fb7050", "#fa5030", "#ff2a1e", "#f80d14", "#dd0012", "#b00010", "#8a000c", "#67000d"]},
                  "legend": {"orient": "none", "legendX": 811, "legendY": -141, "title": null, "direction": "vertical", "gradientLength": 1041, "gradientThickness": 55, "values": [1, 10], "labelExpr": "datum.value < 5 ? '10⁰' : '10¹'"}
                }
              }
            },
            {
              "data": {"values": [{"sx": 0, "pz": 0}, {"sx": 3, "pz": 3}]},
              "mark": {"type": "line", "color": "black", "strokeWidth": 2},
              "encoding": {
                "x": {"field": "sx", "type": "quantitative"},
                "y": {"field": "pz", "type": "quantitative"}
              }
            }
          ]
        }
      ],
      "spacing": 0,
      "bounds": "flush"
    }
  ],
  "spacing": 1154,
  "bounds": "flush",
  "resolve": {"scale": {"color": "independent", "x": "independent", "y": "independent"}, "legend": {"color": "independent"}}
}
